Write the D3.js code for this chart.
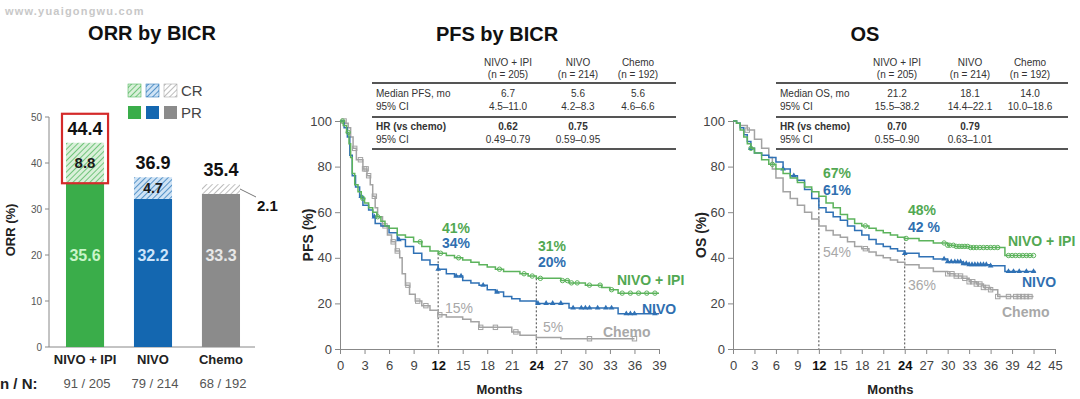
<!DOCTYPE html>
<html><head><meta charset="utf-8">
<script src="https://cdn.jsdelivr.net/npm/d3@7"></script>
<style>
body{margin:0;background:#fff;}
svg{display:block;font-family:"Liberation Sans",Arial,sans-serif;}
</style></head>
<body><svg id="c" width="1080" height="399"></svg>
<script>
// ---------- DATA ----------
const orrCategories = ["NIVO + IPI", "NIVO", "Chemo"];
const orrPR = [35.6, 32.2, 33.3];
const orrCR = [8.8, 4.7, 2.1];
const orrTotal = [44.4, 36.9, 35.4];
const orrNN = ["91 / 205", "79 / 214", "68 / 192"];
const orrTicks = [0, 10, 20, 30, 40, 50];

const pfsTicksX = [0,3,6,9,12,15,18,21,24,27,30,33,36,39];
const osTicksX = [0,3,6,9,12,15,18,21,24,27,30,33,36,39,42,45];
const survTicksY = [0,20,40,60,80,100];

const pfsNivoIpi = [[0,100],[0.4,98],[0.8,95],[1.1,90],[1.3,84],[1.5,77],[1.8,72],[2.2,69],[2.6,66],[3,64],[3.5,62],[4,60],[4.5,58],[5,56],[5.5,54],[6,53],[7,50],[8,49],[9,47],[10,45],[11,43],[12,42],[13,41],[14,40],[15,39],[16,38],[17,37],[18,36],[19,35],[20,34],[22,33],[23,32],[24,31],[27,30],[28,29],[30,28],[32,27],[33,26],[34,24.5],[39,24.5]];
const pfsNivo = [[0,100],[0.5,97],[0.9,93],[1.2,85],[1.5,76],[1.9,71],[2.4,67],[2.8,63],[3.5,61],[4,58],[4.3,55],[5,54],[6,51],[7,48],[8,45],[9,42],[10,39],[11,37],[12,35],[13,33],[14,32],[15,30],[16,29],[17,28],[18,26],[19,25],[20,23],[21,22],[22,21],[24,20],[28,18],[34,15.5],[39,15.5]];
const pfsChemo = [[0,100],[0.6,99],[1,97],[1.3,93],[1.6,88],[2,83],[2.8,79],[3.3,76],[3.7,72],[4,67],[4.3,62],[4.6,58],[5.2,54],[5.8,50],[6.3,47],[6.8,43],[7.3,40],[7.6,33],[8,28],[8.5,24],[9.2,21],[10,19],[11,17],[12,15],[13,14],[15,13],[16,12],[17,9.5],[21,7.5],[22,6],[24,5],[27,4.5],[36,4.5]];
const pfsCensNivoIpi = [0.3,1.0,2.8,4.6,9.8,12.3,14.5,19.5,22.5,23.5,24.5,27.2,27.8,28.3,29,30.5,31.8,33.2,34.5,35.5,36.5,37.5,38.5];
const pfsCensNivo = [2.6,4.2,7.2,12,14.2,14.8,17.5,19.2,24.2,25.2,26,27,28.5,29.5,30,30.5,31.5,32.5,33.2,35,35.5,36,38.5];
const pfsCensChemo = [0.5,1.8,2.5,3,3.2,3.5,4.2,5.5,6.5,7,8.3,9.5,10.5,12.2,17.2,19,21.5,30.5,36];

const osNivoIpi = [[0,100],[0.5,99],[1,96],[1.5,93],[2,90],[2.5,88],[3,86],[4,83],[5,81],[6,79],[7,77],[8,75],[9,73],[10,71],[11,69],[12,67],[13,64],[14,62],[15,59],[16,57],[17,55],[18,54],[19,53],[20,52],[21,51],[22,50],[23,49],[24,48.5],[26,47.5],[28,46.5],[30,45.5],[31,45],[33,44.5],[38,41],[42,41]];
const osNivo = [[0,100],[0.5,99],[1,97],[1.5,94],[2,91],[2.5,88],[3,86],[4,85],[5,84],[6,82],[7,79],[8,76],[9,74],[10,70],[11,66],[12,62],[13,60],[14,58],[15,56.5],[16,54],[17,52],[18,50],[19,48],[20,46],[21,45],[22,44],[23,43],[24,42],[26,40.5],[28,39.5],[30,38.3],[32,37.5],[33,37],[36,36.5],[38,34],[42.3,34]];
const osChemo = [[0,100],[0.5,99],[1,98],[2,96],[3,92],[4,88],[5,84],[5.5,79],[6,75],[7,69],[8,66],[9,63],[10,60],[11,57],[12,54],[13,52],[14,50],[15,49],[16,47],[17,45],[18,44],[19,42.5],[20,41],[21,40],[22,39],[23,38],[24,37],[26,35.5],[28,34],[30,33],[31,32],[32,31],[33,29.5],[34,28.5],[35,27],[36,26],[37,23],[42,23]];
const osCensNivoIpi = [2.5,5.5,18.5,24.2,29.5,30,30.3,30.8,31.2,31.6,32,32.4,32.8,33.2,33.6,34,34.5,35,35.5,36,36.5,37,38.5,39,39.5,40,40.5,41,41.5,42];
const osCensNivo = [2.5,7,8.5,24,29.5,30,30.5,31,31.4,31.8,32.2,32.6,33,33.4,33.8,34.2,34.6,35,35.4,36,38.5,39.2,40,41,42];
const osCensChemo = [2,18.5,30,30.6,31.2,31.8,32.4,33,33.5,34,34.5,35,35.5,36,37,38.5,39.5,40,40.5,41,41.5];

const pfsTable = {cols:["NIVO + IPI","NIVO","Chemo"], ns:["(n = 205)","(n = 214)","(n = 192)"],
  r1:["Median PFS, mo","95% CI"], med:["6.7","5.6","5.6"], ci:["4.5–11.0","4.2–8.3","4.6–6.6"],
  hr:["0.62","0.75",""], hrci:["0.49–0.79","0.59–0.95",""]};
const osTable = {cols:["NIVO + IPI","NIVO","Chemo"], ns:["(n = 205)","(n = 214)","(n = 192)"],
  r1:["Median OS, mo","95% CI"], med:["21.2","18.1","14.0"], ci:["15.5–38.2","14.4–22.1","10.0–18.6"],
  hr:["0.70","0.79",""], hrci:["0.55–0.90","0.63–1.01",""]};

const green="#5cb35c", blue="#2f71b5", gray="#a3a3a3";
const barColors=["#3aad4a","#1467b0","#8b8b8b"];
const hatchBg=["#d9f0d9","#cfe3f5","#ffffff"];
const hatchLn=["#3aad4a","#1467b0","#9a9a9a"];
const labelColors=["#c9f5c9","#cde4fa","#e8e8e8"];

const svg=d3.select("#c");
svg.append("rect").attr("width",1080).attr("height",399).attr("fill","#fff");
const defs=svg.append("defs");
hatchBg.forEach((bg,i)=>{
  const p=defs.append("pattern").attr("id","h"+i).attr("patternUnits","userSpaceOnUse")
    .attr("width",4).attr("height",4).attr("patternTransform","rotate(45)");
  p.append("rect").attr("width",4).attr("height",4).attr("fill",bg);
  p.append("line").attr("x1",0).attr("y1",0).attr("x2",0).attr("y2",4).attr("stroke",hatchLn[i]).attr("stroke-width",1.3);
});

// watermark
svg.append("text").attr("x",5).attr("y",15).attr("font-size",11).attr("font-weight","bold")
  .attr("fill","#c8c8c8").attr("letter-spacing",1.2).text("www.yuaigongwu.com");

// ---------- ORR ----------
const yO=d3.scaleLinear().domain([0,50]).range([347,117]);
const xO=d3.scaleBand().domain(orrCategories).range([49,257]).paddingInner(0.44).paddingOuter(0.25);
svg.append("text").attr("x",152).attr("y",40).attr("text-anchor","middle").attr("font-size",20).attr("font-weight","bold").attr("fill","#111").text("ORR by BICR");
const gO=svg.append("g");
gO.append("line").attr("x1",49).attr("x2",255).attr("y1",yO(0)).attr("y2",yO(0)).attr("stroke","#888");
gO.append("line").attr("x1",49).attr("x2",49).attr("y1",yO(0)).attr("y2",yO(50)).attr("stroke","#888");
orrTicks.forEach(t=>{
  gO.append("line").attr("x1",45).attr("x2",49).attr("y1",yO(t)).attr("y2",yO(t)).attr("stroke","#888");
  gO.append("text").attr("x",42).attr("y",yO(t)+4).attr("text-anchor","end").attr("font-size",10).attr("fill","#555").text(t);
});
svg.append("text").attr("transform","translate(15,230) rotate(-90)").attr("text-anchor","middle").attr("font-size",13).attr("font-weight","bold").attr("fill","#222").text("ORR (%)");
orrCategories.forEach((c,i)=>{
  const x=xO(c), w=xO.bandwidth(), cx=x+w/2;
  gO.append("rect").attr("x",x).attr("width",w).attr("y",yO(orrPR[i])).attr("height",yO(0)-yO(orrPR[i])).attr("fill",barColors[i]);
  gO.append("rect").attr("x",x).attr("width",w).attr("y",yO(orrPR[i]+orrCR[i])).attr("height",yO(orrPR[i])-yO(orrPR[i]+orrCR[i])).attr("fill","url(#h"+i+")");
  gO.append("text").attr("x",cx).attr("y",yO(20)+6).attr("text-anchor","middle").attr("font-size",16).attr("font-weight","bold").attr("fill",labelColors[i]).text(orrPR[i].toFixed(1));
  gO.append("text").attr("x",cx).attr("y",yO(orrTotal[i])-8).attr("text-anchor","middle").attr("font-size",18).attr("font-weight","bold").attr("fill","#111").text(orrTotal[i].toFixed(1));
  if(i<2){
    gO.append("text").attr("x",cx).attr("y",yO(orrPR[i]+orrCR[i]/2)+5).attr("text-anchor","middle").attr("font-size",i==0?15:14).attr("font-weight","bold").attr("fill","#1a1a1a").text(orrCR[i].toFixed(1));
  } else {
    const ym=yO(orrPR[i]+orrCR[i]/2);
    gO.append("line").attr("x1",x+w).attr("y1",ym).attr("x2",x+w+16).attr("y2",ym+8).attr("stroke","#777");
    gO.append("text").attr("x",x+w+17).attr("y",ym+22).attr("font-size",15).attr("font-weight","bold").attr("fill","#111").text(orrCR[i].toFixed(1));
  }
  gO.append("text").attr("x",cx).attr("y",364).attr("text-anchor","middle").attr("font-size",13).attr("font-weight","bold").attr("fill","#222").text(c);
  gO.append("text").attr("x",cx+2).attr("y",388).attr("text-anchor","middle").attr("font-size",13).attr("fill","#555").text(orrNN[i]);
});
// red box around NIVO+IPI CR
{const x=xO(orrCategories[0]), w=xO.bandwidth();
 gO.append("rect").attr("x",x-4).attr("width",w+8).attr("y",yO(50.7)).attr("height",yO(orrPR[0])-yO(50.7))
  .attr("fill","none").attr("stroke","#d42a2a").attr("stroke-width",2.2);}
svg.append("text").attr("x",0).attr("y",389).attr("font-size",15).attr("font-weight","bold").attr("fill","#222").text("n / N:");
// legend
[0,1,2].forEach(i=>{
  gO.append("rect").attr("x",128+i*18).attr("y",84).attr("width",13).attr("height",13).attr("fill","url(#h"+i+")").attr("stroke",hatchLn[i]).attr("stroke-width",0.5);
  gO.append("rect").attr("x",128+i*18).attr("y",106).attr("width",13).attr("height",13).attr("fill",barColors[i]);
});
gO.append("text").attr("x",181).attr("y",96).attr("font-size",15).attr("fill","#444").text("CR");
gO.append("text").attr("x",181).attr("y",118).attr("font-size",15).attr("fill","#444").text("PR");

// ---------- KM panels ----------
function stepVal(curve,t){let v=curve[0][1];for(const p of curve){if(p[0]<=t)v=p[1];else break;}return v;}
function panel(o){
  const x=d3.scaleLinear().domain([0,o.xmax]).range([o.x0,o.x1]);
  const y=d3.scaleLinear().domain([0,100]).range([349,121]);
  const g=svg.append("g");
  svg.append("text").attr("x",o.titleX).attr("y",41).attr("text-anchor","middle").attr("font-size",20).attr("font-weight","bold").attr("fill","#111").text(o.title);
  const ax=g.append("g").attr("transform","translate(0,349)").call(d3.axisBottom(x).tickValues(o.ticks).tickSize(5).tickSizeOuter(0));
  ax.select(".domain").attr("stroke","#888");
  ax.selectAll(".tick line").attr("stroke","#888");
  ax.selectAll(".tick text").attr("font-size",13).attr("fill","#444").attr("dy","1.0em")
    .attr("font-family","Liberation Sans, Arial, sans-serif")
    .attr("font-weight",d=>(d===12||d===24)?"bold":"normal").attr("fill",d=>(d===12||d===24)?"#111":"#444");
  const ay=g.append("g").attr("transform",`translate(${o.x0},0)`).call(d3.axisLeft(y).tickValues(survTicksY).tickSize(5).tickSizeOuter(0));
  ay.select(".domain").attr("stroke","#888");
  ay.selectAll(".tick line").attr("stroke","#888");
  ay.selectAll(".tick text").attr("font-size",13).attr("fill","#444").attr("font-family","Liberation Sans, Arial, sans-serif");
  svg.append("text").attr("transform",`translate(${o.x0-27},235) rotate(-90)`).attr("text-anchor","middle").attr("font-size",14).attr("font-weight","bold").attr("fill","#222").text(o.ylab);
  svg.append("text").attr("x",x(o.monthsAt)).attr("y",394).attr("text-anchor","middle").attr("font-size",13).attr("font-weight","bold").attr("fill","#222").text("Months");
  // dashed lines
  [12,24].forEach(t=>{
    g.append("line").attr("x1",x(t)).attr("x2",x(t)).attr("y1",y(stepVal(o.curves[0].d,t))).attr("y2",349)
      .attr("stroke","#444").attr("stroke-dasharray","2,2").attr("stroke-width",1);
  });
  const line=d3.line().x(d=>x(d[0])).y(d=>y(d[1])).curve(d3.curveStepAfter);
  o.curves.slice().reverse().forEach(c=>{
    g.append("path").attr("d",line(c.d)).attr("fill","none").attr("stroke",c.col).attr("stroke-width",1.5);
    c.cens.forEach(t=>{
      const cx=x(t), cy=y(stepVal(c.d,t));
      if(c.mark==="c") g.append("circle").attr("cx",cx).attr("cy",cy).attr("r",2.2).attr("fill","none").attr("stroke",c.col).attr("stroke-width",1);
      else if(c.mark==="t") g.append("path").attr("d",d3.symbol(d3.symbolTriangle,14)()).attr("transform",`translate(${cx},${cy})`).attr("fill",c.col);
      else g.append("rect").attr("x",cx-2.2).attr("y",cy-2.2).attr("width",4.4).attr("height",4.4).attr("fill","none").attr("stroke",c.col).attr("stroke-width",1);
    });
  });
  o.labels.forEach(l=>{
    svg.append("text").attr("x",l.x).attr("y",l.y).attr("font-size",l.fs||14).attr("font-weight",l.w||"bold").attr("fill",l.c).text(l.t);
  });
  // table
  const T=o.table, tl=o.tx0, tr=o.tx1;
  const tg=svg.append("g").attr("font-size",10).attr("fill","#333");
  T.cols.forEach((c,i)=>{
    tg.append("text").attr("x",o.cx[i]).attr("y",66).attr("text-anchor","middle").text(c);
    tg.append("text").attr("x",o.cx[i]).attr("y",78).attr("text-anchor","middle").text(T.ns[i]);
    tg.append("text").attr("x",o.cx[i]).attr("y",97).attr("text-anchor","middle").text(T.med[i]);
    tg.append("text").attr("x",o.cx[i]).attr("y",110).attr("text-anchor","middle").text(T.ci[i]);
    tg.append("text").attr("x",o.cx[i]).attr("y",130).attr("text-anchor","middle").attr("font-weight","bold").text(T.hr[i]);
    tg.append("text").attr("x",o.cx[i]).attr("y",143).attr("text-anchor","middle").text(T.hrci[i]);
  });
  tg.append("text").attr("x",tl+4).attr("y",97).text(T.r1[0]);
  tg.append("text").attr("x",tl+4).attr("y",110).text(T.r1[1]);
  tg.append("text").attr("x",tl+4).attr("y",130).attr("font-weight","bold").text("HR (vs chemo)");
  tg.append("text").attr("x",tl+4).attr("y",143).text("95% CI");
  [83,117,149].forEach(yy=>tg.append("line").attr("x1",tl).attr("x2",tr).attr("y1",yy).attr("y2",yy).attr("stroke","#555").attr("stroke-width",2));
}

panel({title:"PFS by BICR",titleX:497,ylab:"PFS (%)",xmax:39,x0:340,x1:659,ticks:pfsTicksX,monthsAt:19.5,
  curves:[{d:pfsNivoIpi,col:green,cens:pfsCensNivoIpi,mark:"c"},{d:pfsNivo,col:blue,cens:pfsCensNivo,mark:"t"},{d:pfsChemo,col:gray,cens:pfsCensChemo,mark:"s"}],
  labels:[{t:"41%",x:442,y:233,c:"#52a852"},{t:"34%",x:442,y:248,c:"#2f6fb0"},{t:"15%",x:445,y:313,c:"#a8a8a8",w:"normal"},
          {t:"31%",x:538,y:251,c:"#52a852"},{t:"20%",x:538,y:267,c:"#2f6fb0"},{t:"5%",x:543,y:332,c:"#a8a8a8",w:"normal"},
          {t:"NIVO + IPI",x:617,y:285,c:"#52a852"},{t:"NIVO",x:642,y:314,c:"#2f6fb0"},{t:"Chemo",x:603,y:337,c:"#a8a8a8"}],
  table:pfsTable,tx0:372,tx1:676,cx:[508,578,638]});

panel({title:"OS",titleX:865,ylab:"OS (%)",xmax:45,x0:733,x1:1055,ticks:osTicksX,monthsAt:22,
  curves:[{d:osNivoIpi,col:green,cens:osCensNivoIpi,mark:"c"},{d:osNivo,col:blue,cens:osCensNivo,mark:"t"},{d:osChemo,col:gray,cens:osCensChemo,mark:"s"}],
  labels:[{t:"67%",x:823,y:178,c:"#52a852"},{t:"61%",x:823,y:195,c:"#2f6fb0"},{t:"54%",x:823,y:257,c:"#a8a8a8",w:"normal"},
          {t:"48%",x:908,y:215,c:"#52a852"},{t:"42 %",x:908,y:232,c:"#2f6fb0"},{t:"36%",x:908,y:290,c:"#a8a8a8",w:"normal"},
          {t:"NIVO + IPI",x:1008,y:246,c:"#52a852"},{t:"NIVO",x:1022,y:287,c:"#2f6fb0"},{t:"Chemo",x:1002,y:317,c:"#a8a8a8"}],
  table:osTable,tx0:776,tx1:1068,cx:[897,970,1030]});
</script></body></html>
